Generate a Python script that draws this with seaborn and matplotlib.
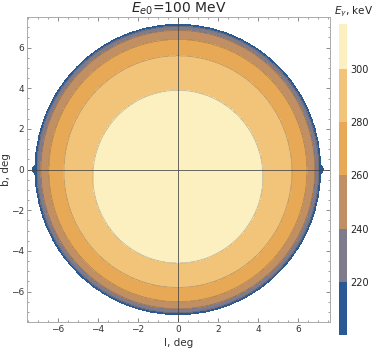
import numpy as np
import matplotlib
matplotlib.use('Agg')
import matplotlib.pyplot as plt
import seaborn as sns

# contour bins (keV) and their colours, lowest first
levels = [200, 220, 240, 260, 280, 300, 317]
bin_colors = ['#295a94', '#7d7b8c', '#c08f63', '#e8a957', '#f2c47a', '#fdf0c0']

# boundaries: energy, radius (deg), centre offset in b (deg)
boundary_E = [220, 240, 260, 280, 300]
boundary_r = [7.05, 6.85, 6.45, 5.7, 4.25]
boundary_b0 = [0.0, 0.0, -0.05, -0.1, -0.35]
outer_r = 7.15
tip_l = 7.3

tick_vals = [-6, -4, -2, 0, 2, 4, 6]
tick_text = ['\u22126', '\u22124', '\u22122', '0', '2', '4', '6']
cbar_ticks = [220, 240, 260, 280, 300]

sns.set_style('ticks')
plt.rcParams['font.family'] = ['DejaVu Sans']

l = np.linspace(-7.6, 7.6, 700)
b = np.linspace(-7.6, 7.6, 700)
L, B = np.meshgrid(l, b)
Z = np.full(L.shape, 210.0)
for E, r, c in zip(boundary_E, boundary_r, boundary_b0):
    Z[L**2 + (B - c)**2 < r**2] = E + 10
inside = L**2 + B**2 < outer_r**2
tip = (np.abs(L) > 7.0) & (np.abs(B) < 0.5 * (tip_l - np.abs(L)) / (tip_l - 7.0))
Z[~(inside | tip)] = np.nan

fig = plt.figure(figsize=(3.74, 3.5), dpi=100)
ax = fig.add_axes([0.072, 0.08, 0.81, 0.871])
cf = ax.contourf(L, B, Z, levels=levels, colors=bin_colors)
ax.contour(L, B, Z, levels=levels[1:-1], colors='#3a3a3a', linewidths=0.5, alpha=0.35)
ax.axhline(0, color='#444444', lw=0.7, alpha=0.8)
ax.axvline(0, color='#444444', lw=0.7, alpha=0.8)

ax.set_xlim(-7.55, 7.6)
ax.set_ylim(-7.5, 7.5)
ax.set_xticks(tick_vals)
ax.set_yticks(tick_vals)
ax.set_xticks(np.arange(-7.5, 7.6, 0.5), minor=True)
ax.set_yticks(np.arange(-7.5, 7.6, 0.5), minor=True)
ax.tick_params(which='both', direction='in', top=True, right=True, color='#777777',
               labelsize=6.5, labelcolor='#333333', pad=2)
ax.tick_params(which='major', length=3, width=0.6)
ax.tick_params(which='minor', length=1.5, width=0.5)
for s in ax.spines.values():
    s.set_color('#aaaaaa')
    s.set_linewidth(0.7)
ax.set_xticklabels(tick_text)
ax.set_yticklabels(tick_text)
ax.set_xlabel('l, deg', fontsize=7.5, color='#333333', labelpad=3)
ax.set_ylabel('b, deg', fontsize=7.5, color='#333333')
ax.yaxis.set_label_coords(-0.052, 0.5)
ax.set_title('$E_{e0}$=100 MeV', fontsize=10, pad=2)

cax = fig.add_axes([0.906, 0.043, 0.022, 0.889])
cb = fig.colorbar(cf, cax=cax, spacing='proportional')
cb.set_ticks(cbar_ticks)
cb.outline.set_visible(False)
cax.tick_params(length=0, labelsize=7, labelcolor='#222222', pad=2)
fig.text(0.945, 0.965, '$E_\\gamma$, keV', fontsize=7.5, ha='center', va='center')

fig.savefig('out.png', dpi=100)
